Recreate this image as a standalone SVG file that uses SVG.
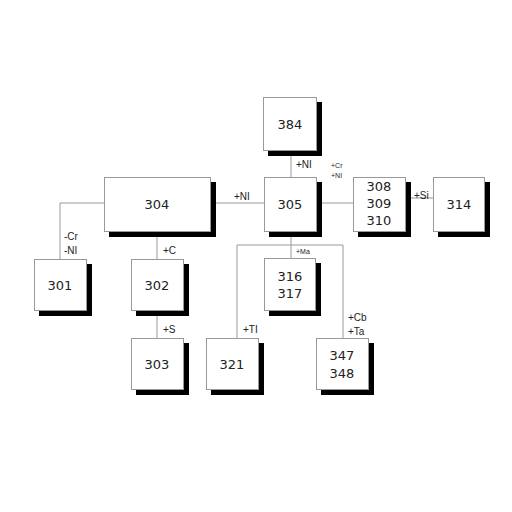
<svg xmlns="http://www.w3.org/2000/svg" width="512" height="512" viewBox="0 0 512 512">
<style>
.sh{fill:#000}
.bx{fill:#fff;stroke:#999;stroke-width:1}
.n{font-family:"DejaVu Sans","Liberation Sans",sans-serif;font-size:13px;fill:#222;text-anchor:middle}
.l{font-family:"Liberation Sans",Arial,sans-serif;font-size:10px;fill:#222}
.s{font-family:"Liberation Sans",Arial,sans-serif;font-size:7px;fill:#222}
#connectors line, #connectors polyline{stroke:#999;stroke-width:1;fill:none}
</style>
<rect width="512" height="512" fill="#fff"/>
<g id="connectors">
<line x1="211" y1="203" x2="264" y2="203"/>
<polyline points="104,203 60,203 60,259"/>
<line x1="157" y1="232" x2="157" y2="259"/>
<line x1="157" y1="311" x2="157" y2="338"/>
<line x1="291" y1="151" x2="291" y2="177"/>
<line x1="317" y1="203" x2="353" y2="203"/>
<line x1="406" y1="198" x2="433" y2="198"/>
<line x1="291" y1="232" x2="291" y2="258"/>
<polyline points="237,338 237,245 343,245 343,338"/>
<text class="l" x="234" y="200">+NI</text>
<text class="l" x="296" y="168">+NI</text>
<text class="s" x="331" y="168">+Cr</text>
<text class="s" x="331" y="178">+NI</text>
<text class="l" x="414" y="199" fill="#555">+Si</text>
<text class="l" x="64" y="240">-Cr</text>
<text class="l" x="64" y="254">-NI</text>
<text class="l" x="163" y="254">+C</text>
<text class="l" x="163" y="333">+S</text>
<text class="s" x="296" y="254">+Ma</text>
<text class="l" x="243" y="333">+TI</text>
<text class="l" x="348" y="321">+Cb</text>
<text class="l" x="348" y="335">+Ta</text>
</g>
<g id="n384"><rect class="sh" x="268" y="102" width="54" height="54"/><rect class="bx" x="263.5" y="97.5" width="53" height="53"/><text class="n" x="290" y="129">384</text></g>
<g id="n304"><rect class="sh" x="109" y="182" width="107" height="55"/><rect class="bx" x="104.5" y="177.5" width="106" height="54"/><text class="n" x="157" y="209">304</text></g>
<g id="n305"><rect class="sh" x="269" y="182" width="53" height="55"/><rect class="bx" x="264.5" y="177.5" width="52" height="54"/><text class="n" x="290" y="209">305</text></g>
<g id="n308"><rect class="sh" x="358" y="182" width="53" height="55"/><rect class="bx" x="353.5" y="177.5" width="52" height="54"/><text class="n" x="379" y="191">308</text><text class="n" x="379" y="208">309</text><text class="n" x="379" y="225">310</text></g>
<g id="n314"><rect class="sh" x="438" y="182" width="52" height="55"/><rect class="bx" x="433.5" y="177.5" width="51" height="54"/><text class="n" x="459" y="209">314</text></g>
<g id="n301"><rect class="sh" x="39" y="264" width="53" height="52"/><rect class="bx" x="34.5" y="259.5" width="52" height="51"/><text class="n" x="60" y="290">301</text></g>
<g id="n302"><rect class="sh" x="136" y="264" width="53" height="52"/><rect class="bx" x="131.5" y="259.5" width="52" height="51"/><text class="n" x="157" y="290">302</text></g>
<g id="n303"><rect class="sh" x="136" y="343" width="53" height="52"/><rect class="bx" x="131.5" y="338.5" width="52" height="51"/><text class="n" x="157" y="369">303</text></g>
<g id="n316"><rect class="sh" x="269" y="263" width="52" height="53"/><rect class="bx" x="264.5" y="258.5" width="51" height="52"/><text class="n" x="290" y="281">316</text><text class="n" x="290" y="298">317</text></g>
<g id="n321"><rect class="sh" x="211" y="343" width="53" height="52"/><rect class="bx" x="206.5" y="338.5" width="52" height="51"/><text class="n" x="232" y="369">321</text></g>
<g id="n347"><rect class="sh" x="321" y="343" width="53" height="52"/><rect class="bx" x="316.5" y="338.5" width="52" height="51"/><text class="n" x="342" y="360">347</text><text class="n" x="342" y="378">348</text></g>
</svg>
